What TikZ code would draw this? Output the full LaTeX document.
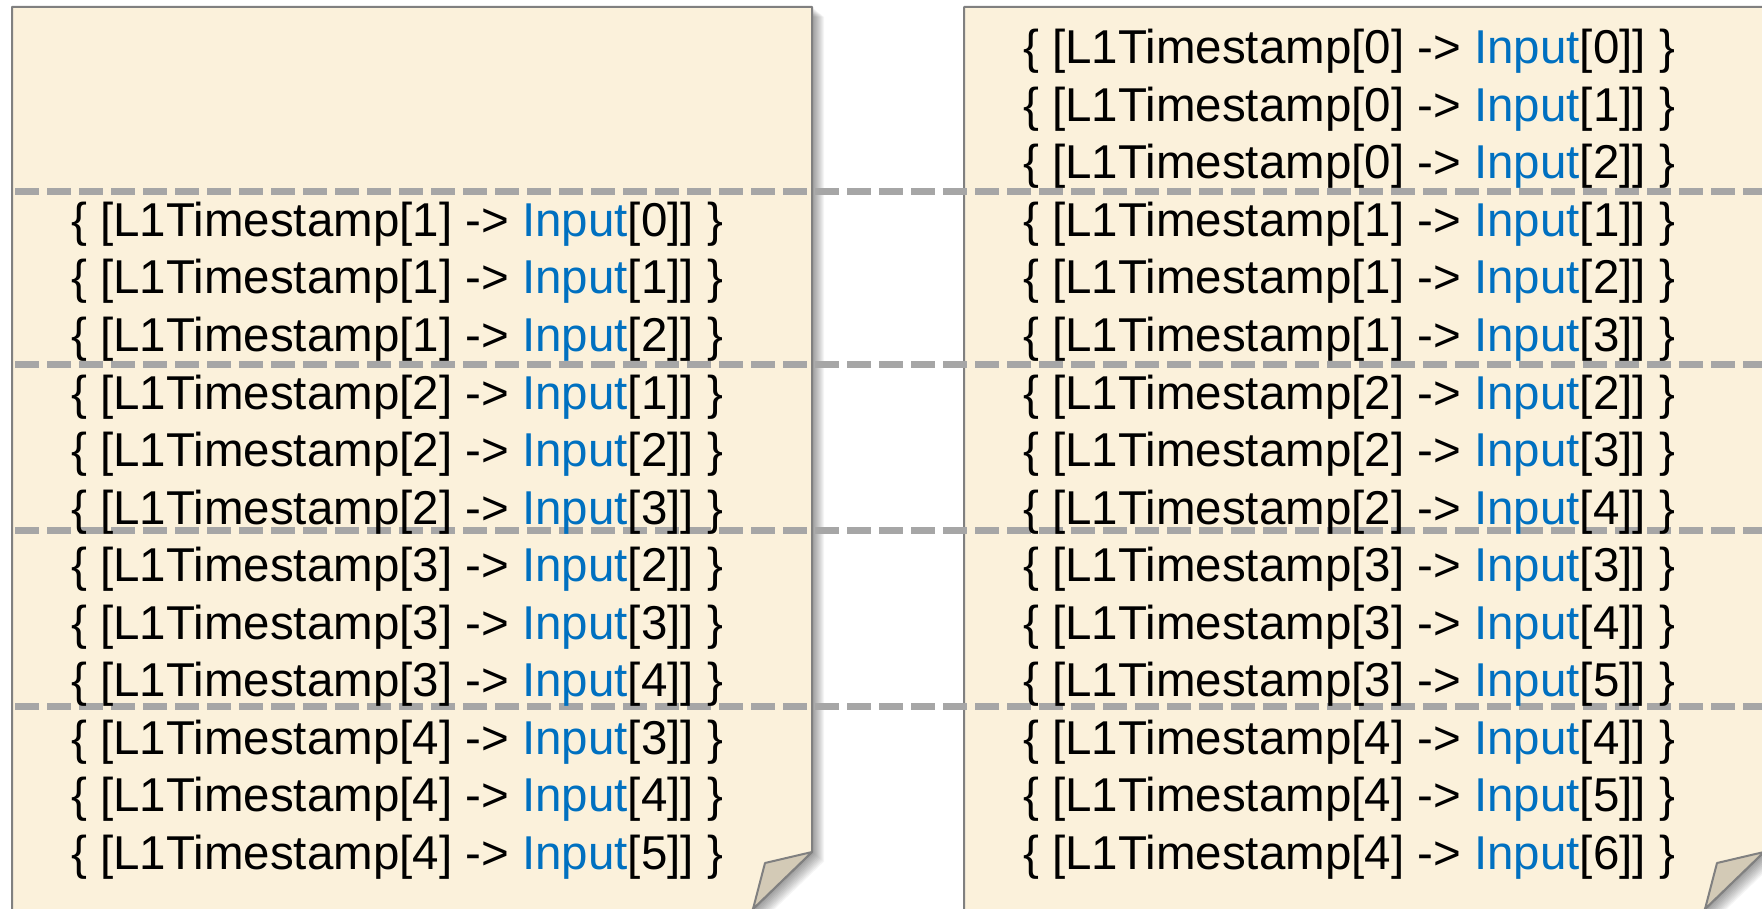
\documentclass[tikz,border=0pt]{standalone}
\usepackage{fontspec}
\setmainfont{Liberation Sans}
\usetikzlibrary{calc}
\definecolor{paper}{RGB}{251,241,219}
\definecolor{inblue}{RGB}{0,112,192}
\definecolor{dashgray}{RGB}{166,166,166}
\definecolor{edgegray}{RGB}{128,128,128}
\definecolor{flapcol}{RGB}{211,202,182}
\newcommand\tsrow[2]{\{ [L1Timestamp[#1] -> \textcolor{inblue}{Input}[#2]] \}}
\begin{document}
\begin{tikzpicture}[x=1pt,y=-1pt,
  entry/.style={anchor=west, inner sep=0pt, text=black, font=\fontsize{47.5}{57}\selectfont},
  paperbox/.style={fill=paper, draw=edgegray, line width=2pt, line join=round},
  flapbox/.style={fill=flapcol, draw=edgegray, line width=2pt, line join=round},
  sep/.style={draw=dashgray, line width=7pt, dash pattern=on 24pt off 8pt},
  shade/.style={fill=black, opacity=0.04}]
\useasboundingbox (0,0) rectangle (1762,909);
% shadows
\foreach \k in {1,...,12}{
  \fill[shade] ($(12,7)+(\k,0.8*\k)$) -- ++(800,0) -- ++(0,845) -- ++(-70.6,68) -- ++(-729.4,0) -- cycle;
  \fill[shade] ($(964,7)+(\k,0.8*\k)$) -- ++(800,0) -- ++(0,845) -- ++(-70.6,68) -- ++(-729.4,0) -- cycle;
}
% panels
\draw[paperbox] (12,7) -- (812,7) -- (812,852) -- (741.6,920) -- (12,920) -- cycle;
\draw[paperbox] (964,7) -- (1764,7) -- (1764,852) -- (1693.6,920) -- (964,920) -- cycle;
% folded corners
\draw[flapbox] (812,852) -- (765,863) -- (753,909) -- cycle;
\draw[flapbox] (1764,852) -- (1717,863) -- (1705,909) -- cycle;
% separators
\coordinate (s1a) at (15,192); \coordinate (s1b) at (1775,192);
\coordinate (s2a) at (15,364); \coordinate (s2b) at (1775,364);
\coordinate (s3a) at (15,530); \coordinate (s3b) at (1775,530);
\coordinate (s4a) at (15,706); \coordinate (s4b) at (1775,706);
\draw[sep] (s1a) -- (s1b);
\draw[sep] (s2a) -- (s2b);
\draw[sep] (s3a) -- (s3b);
\draw[sep] (s4a) -- (s4b);
% left column
\node[entry] (l0)  at (71,{51.5+57.55*3})  {\tsrow{1}{0}};
\node[entry] (l1)  at (71,{51.5+57.55*4})  {\tsrow{1}{1}};
\node[entry] (l2)  at (71,{51.5+57.55*5})  {\tsrow{1}{2}};
\node[entry] (l3)  at (71,{51.5+57.55*6})  {\tsrow{2}{1}};
\node[entry] (l4)  at (71,{51.5+57.55*7})  {\tsrow{2}{2}};
\node[entry] (l5)  at (71,{51.5+57.55*8})  {\tsrow{2}{3}};
\node[entry] (l6)  at (71,{51.5+57.55*9})  {\tsrow{3}{2}};
\node[entry] (l7)  at (71,{51.5+57.55*10}) {\tsrow{3}{3}};
\node[entry] (l8)  at (71,{51.5+57.55*11}) {\tsrow{3}{4}};
\node[entry] (l9)  at (71,{51.5+57.55*12}) {\tsrow{4}{3}};
\node[entry] (l10) at (71,{51.5+57.55*13}) {\tsrow{4}{4}};
\node[entry] (l11) at (71,{51.5+57.55*14}) {\tsrow{4}{5}};
% right column
\node[entry] (r0)  at (1023,{51.5+57.55*0})  {\tsrow{0}{0}};
\node[entry] (r1)  at (1023,{51.5+57.55*1})  {\tsrow{0}{1}};
\node[entry] (r2)  at (1023,{51.5+57.55*2})  {\tsrow{0}{2}};
\node[entry] (r3)  at (1023,{51.5+57.55*3})  {\tsrow{1}{1}};
\node[entry] (r4)  at (1023,{51.5+57.55*4})  {\tsrow{1}{2}};
\node[entry] (r5)  at (1023,{51.5+57.55*5})  {\tsrow{1}{3}};
\node[entry] (r6)  at (1023,{51.5+57.55*6})  {\tsrow{2}{2}};
\node[entry] (r7)  at (1023,{51.5+57.55*7})  {\tsrow{2}{3}};
\node[entry] (r8)  at (1023,{51.5+57.55*8})  {\tsrow{2}{4}};
\node[entry] (r9)  at (1023,{51.5+57.55*9})  {\tsrow{3}{3}};
\node[entry] (r10) at (1023,{51.5+57.55*10}) {\tsrow{3}{4}};
\node[entry] (r11) at (1023,{51.5+57.55*11}) {\tsrow{3}{5}};
\node[entry] (r12) at (1023,{51.5+57.55*12}) {\tsrow{4}{4}};
\node[entry] (r13) at (1023,{51.5+57.55*13}) {\tsrow{4}{5}};
\node[entry] (r14) at (1023,{51.5+57.55*14}) {\tsrow{4}{6}};
\end{tikzpicture}
\end{document}
